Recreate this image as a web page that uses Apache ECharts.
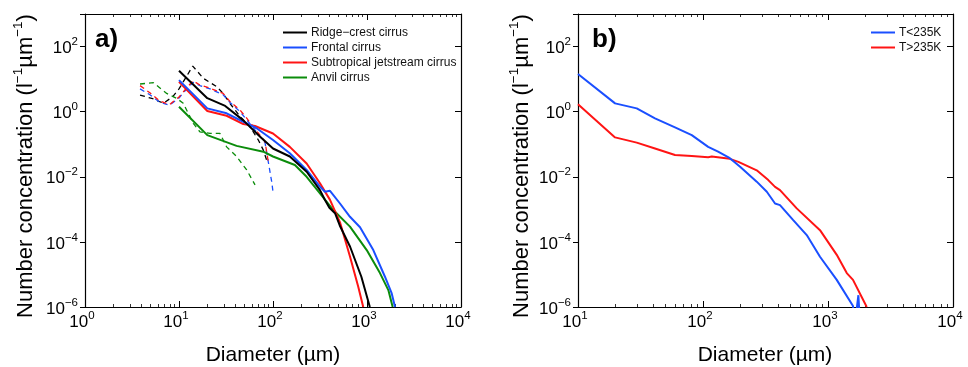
<!DOCTYPE html>
<html><head><meta charset="utf-8">
<script src="https://cdn.jsdelivr.net/npm/echarts@6/dist/echarts.min.js"></script>
<style>html,body{margin:0;padding:0;background:#fff}#c{width:968px;height:367px}</style>
</head><body><div id="c"></div>
<script>
// ---------- Panel a: solid curves (large-particle probe) ----------
const ridgeD = [10,20,31,48,73,100,151,228,316,355,398,457,513,661,871,1072];
const ridgeN = [18,2.6,1.5,0.55,0.17,0.074,0.042,0.0143,0.0039,0.002,0.00112,0.00076,0.00032,7.1e-5,8.5e-6,1e-6];
const frontD = [10,20,32.1,48.3,67,100,151,228,316,357,404,516,659,843,1167,1552,1832,1986];
const frontN = [9.3,1.26,0.89,0.49,0.31,0.135,0.0525,0.0162,0.005,0.00347,0.00372,0.00151,0.00059,0.000282,5.6e-5,8.5e-6,2.6e-6,1e-6];
const jetD = [10,20,32.1,48.3,64.4,100,151,228,316,404,516,659,807,912];
const jetN = [8.3,1.05,0.75,0.417,0.363,0.214,0.083,0.0257,0.0063,0.00195,0.0004,3.55e-5,4.2e-6,1e-6];
const anvilD = [10,20,41,79,100,171,228,316,438,659,993,1374,1687,1875];
const anvilN = [1.41,0.19,0.089,0.059,0.042,0.023,0.01,0.0031,0.00095,0.000295,5.6e-5,1.1e-5,3.3e-6,1e-6];
// ---------- Panel a: dashed curves (small-particle probe) ----------
const ridgeSD = [3.85,5.25,6.81,8.51,10,14,18.2,25.1,29.5,34.7,44.7,56.9,69.8,78.9,85.7];
const ridgeSN = [3.24,2.51,1.82,2.82,5.0,25.1,10.5,5.89,3.63,1.82,0.708,0.347,0.135,0.066,0.0324];
const jetSD = [3.85,4.9,6.31,7.94,10,11.1,14.1,16.7,21.4,29.5,34.9,44.6,52.5,61.7,82.2,89.1];
const jetSN = [6.31,3.8,2.09,1.66,2.82,4.07,8.91,6.61,5.25,3.63,2.04,1.12,0.63,0.347,0.12,0.0288];
const frontSD = [3.85,4.9,6.31,7.94,10,11.1,14.1,16.7,21.4,29.5,34.9,44.6,52.5,61.7,82.2,89.1,96.8,100];
const frontSN = [5.01,3.31,1.91,1.58,2.63,3.8,7.94,6.31,5.01,3.31,1.91,1.0,0.562,0.316,0.112,0.0288,0.00708,0.00347];
const anvilSD = [3.85,5.33,7.4,9.44,11.1,14.2,16.7,21.4,27.3,32.1,41.1,52.5,64.4];
const anvilSN = [7.08,7.76,3.63,2.57,1.8,0.437,0.24,0.214,0.214,0.083,0.0417,0.0162,0.00562];
// ---------- Panel b ----------
const coldD = [10,19.8,29.5,41.3,59.7,81.3,110,132,164,198,269,324,377,413,527,676,863,1175,1585,1640,1750,1803];
const coldN = [14.3,1.8,1.26,0.624,0.331,0.19,0.083,0.0589,0.0372,0.0204,0.00708,0.00347,0.00151,0.00135,0.000468,0.000162,3.5e-5,6.8e-6,1.07e-6,3e-7,2.3e-6,3e-7];
const warmD = [10,19.8,29.5,41.3,59.7,81.3,110,117.5,164,192,269,333,377,413,562,863,1175,1413,1585,2042];
const warmN = [1.68,0.162,0.112,0.0741,0.0468,0.0437,0.0398,0.0417,0.0355,0.0288,0.0158,0.0079,0.0049,0.0039,0.00107,0.000229,4e-5,1.1e-5,6.8e-6,1e-6];
// ---------- Tick labels (exponents of 10) ----------
const xTickExpA = [0,1,2,3,4];
const xTickExpB = [1,2,3,4];
const yTickExp = [-6,-4,-2,0,2];
const legendA = ['Ridge\u2212crest cirrus','Frontal cirrus','Subtropical jetstream cirrus','Anvil cirrus'];
const legendB = ['T<235K','T>235K'];

const FONT = 'Liberation Sans, Arial, Helvetica, sans-serif';
const BLUE = '#1a4fff', RED = '#ff1414', GREEN = '#0b8c0b', BLACK = '#000';

function pairs(d, n){ return d.map((v,i)=>[v, n[i]]); }
function expStr(e){ return e < 0 ? '\u2212' + (-e) : String(e); }
function labFmt(list){
  return function(v){
    const e = Math.round(Math.log10(v));
    if (!list.includes(e)) return '';
    return '{b|10}{e|' + expStr(e) + '}';
  };
}
const labRich = {
  b:{fontSize:17, fontFamily:FONT, color:'#000', lineHeight:21, verticalAlign:'bottom'},
  e:{fontSize:11.5, fontFamily:FONT, color:'#000', lineHeight:12, verticalAlign:'top'}
};
function minorVals(lo, hi){
  const out = [];
  for (let p = lo; p < hi; p++) for (let k = 2; k <= 9; k++) out.push(k * Math.pow(10, p));
  return out;
}
const AX = {lineStyle:{color:'#000', width:1.2}};

function xAxes(grid, min, max, expList){
  const base = {type:'log', logBase:10, min:min, max:max, interval:1, gridIndex:grid, splitLine:{show:false}};
  const lo = Math.round(Math.log10(min)), hi = Math.round(Math.log10(max));
  return [
    Object.assign({}, base, {position:'bottom', axisLine:Object.assign({show:true}, AX),
      axisTick:{show:true, inside:true, length:6, lineStyle:{color:'#000', width:1}},
      axisLabel:{show:true, margin:3, padding:[0,6,0,0], formatter:labFmt(expList), rich:labRich}}),
    Object.assign({}, base, {position:'bottom', axisLine:{show:false},
      axisTick:{show:true, inside:true, length:3, customValues:minorVals(lo,hi), lineStyle:{color:'#000', width:0.8}},
      axisLabel:{show:false}}),
    Object.assign({}, base, {position:'top', axisLine:Object.assign({show:true}, AX),
      axisTick:{show:true, inside:true, length:6, lineStyle:{color:'#000', width:1}},
      axisLabel:{show:false}}),
    Object.assign({}, base, {position:'top', axisLine:{show:false},
      axisTick:{show:true, inside:true, length:3, customValues:minorVals(lo,hi), lineStyle:{color:'#000', width:0.8}},
      axisLabel:{show:false}})
  ];
}
function yAxes(grid){
  const base = {type:'log', logBase:10, min:1e-6, max:1e3, interval:2, gridIndex:grid, splitLine:{show:false}};
  return [
    Object.assign({}, base, {position:'left', axisLine:Object.assign({show:true}, AX),
      axisTick:{show:true, inside:false, length:5, lineStyle:{color:'#000', width:1}},
      axisLabel:{show:true, margin:7, formatter:labFmt(yTickExp), rich:labRich}}),
    Object.assign({}, base, {position:'right', axisLine:Object.assign({show:true}, AX),
      axisTick:{show:true, inside:true, length:6, lineStyle:{color:'#000', width:1}},
      axisLabel:{show:false}})
  ];
}

function line(name, d, n, color, xi, yi, dashed){
  return {type:'line', name:name, xAxisIndex:xi, yAxisIndex:yi, data:pairs(d,n), symbol:'none',
    smooth:false, clip:true, silent:true, animation:false,
    lineStyle:{color:color, width:dashed?1.3:2, type:dashed?[5,4]:'solid'}, itemStyle:{color:color}};
}

const chart = echarts.init(document.getElementById('c'), null, {renderer:'canvas'});
const titleRich = {
  t:{fontSize:22, fontFamily:FONT, color:'#000', lineHeight:26, verticalAlign:'bottom'},
  s:{fontSize:13.5, fontFamily:FONT, color:'#000', lineHeight:13, verticalAlign:'top'}
};
const yTitle = '{t|Number concentration (l}{s|\u22121}{t|\u00b5m}{s|\u22121}{t|)}';
chart.setOption({
  backgroundColor:'#fff',
  animation:false,
  textStyle:{fontFamily:FONT},
  grid:[
    {left:85, top:14, width:376, height:293},
    {left:578, top:14, width:375, height:293}
  ],
  xAxis: xAxes(0, 1, 1e4, xTickExpA).concat(xAxes(1, 10, 1e4, xTickExpB)),
  yAxis: yAxes(0).concat(yAxes(1)),
  legend:[
    {data:legendA, left:278, top:21.5, orient:'vertical', itemWidth:24, itemHeight:12, itemGap:3,
      icon:'path://M0,5 L24,5 L24,7 L0,7 Z',
      textStyle:{fontSize:12, lineHeight:12, color:'#111', fontFamily:FONT, padding:[0,0,0,-1]}},
    {data:legendB, left:866, top:21.5, orient:'vertical', itemWidth:24, itemHeight:12, itemGap:3,
      icon:'path://M0,5 L24,5 L24,7 L0,7 Z',
      textStyle:{fontSize:12, lineHeight:12, color:'#111', fontFamily:FONT, padding:[0,0,0,-1]}}
  ],
  series:[
    line('Ridge-crest small', ridgeSD, ridgeSN, BLACK, 0, 0, true),
    line('Frontal small', frontSD, frontSN, BLUE, 0, 0, true),
    line('Jet small', jetSD, jetSN, RED, 0, 0, true),
    line('Anvil small', anvilSD, anvilSN, GREEN, 0, 0, true),
    line(legendA[3], anvilD, anvilN, GREEN, 0, 0, false),
    line(legendA[2], jetD, jetN, RED, 0, 0, false),
    line(legendA[1], frontD, frontN, BLUE, 0, 0, false),
    line(legendA[0], ridgeD, ridgeN, BLACK, 0, 0, false),
    line(legendB[1], warmD, warmN, RED, 4, 2, false),
    line(legendB[0], coldD, coldN, BLUE, 4, 2, false)
  ],
  graphic:[
    {type:'text', left:95, top:27, style:{text:'a)', font:'bold 26px ' + FONT, fill:'#000'}},
    {type:'text', left:592, top:27, style:{text:'b)', font:'bold 26px ' + FONT, fill:'#000'}},
    {type:'text', x:24, y:166, rotation:Math.PI/2,
      style:{text:yTitle, rich:titleRich, align:'center', verticalAlign:'middle'}},
    {type:'text', x:520, y:166, rotation:Math.PI/2,
      style:{text:yTitle, rich:titleRich, align:'center', verticalAlign:'middle'}},
    {type:'text', x:273, y:355, style:{text:'Diameter (\u00b5m)', font:'21px ' + FONT, fill:'#000', align:'center', verticalAlign:'middle'}},
    {type:'text', x:765, y:355, style:{text:'Diameter (\u00b5m)', font:'21px ' + FONT, fill:'#000', align:'center', verticalAlign:'middle'}}
  ]
});
</script>
</body></html>
